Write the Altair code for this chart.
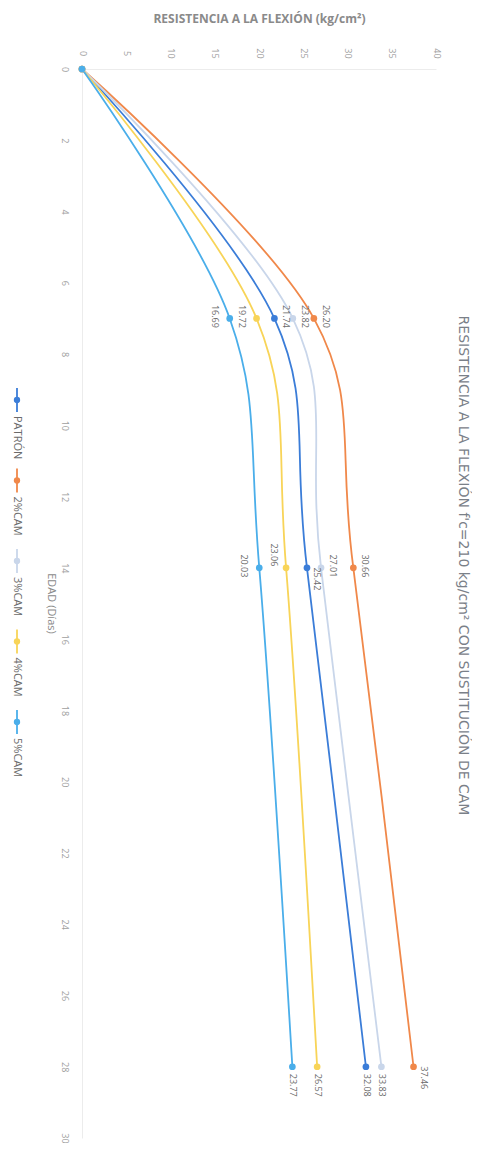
import altair as alt
import pandas as pd

# ---- data ----
series = ["PATRÓN", "2%CAM", "3%CAM", "4%CAM", "5%CAM"]
days = [0, 7, 14, 28]
patron = [0, 21.74, 25.42, 32.08]
cam2 = [0, 26.20, 30.66, 37.46]
cam3 = [0, 23.82, 27.01, 33.83]
cam4 = [0, 19.72, 23.06, 26.57]
cam5 = [0, 16.69, 20.03, 23.77]
x_ticks = [0, 5, 10, 15, 20, 25, 30, 35, 40]
y_ticks = [0, 2, 4, 6, 8, 10, 12, 14, 16, 18, 20, 22, 24, 26, 28, 30]

# ---- styles ----
colors = ["#3b7dd8", "#f0884a", "#c9d6ea", "#f8d458", "#4aaeea"]
FONT = "Open Sans"
label_place = {
    ("PATRÓN", 7): "R", ("2%CAM", 7): "R", ("3%CAM", 7): "R", ("4%CAM", 7): "L", ("5%CAM", 7): "L",
    ("PATRÓN", 14): "RB", ("2%CAM", 14): "R", ("3%CAM", 14): "R", ("4%CAM", 14): "LA", ("5%CAM", 14): "L",
    ("PATRÓN", 28): "B", ("2%CAM", 28): "RB", ("3%CAM", 28): "B", ("4%CAM", 28): "B", ("5%CAM", 28): "B",
}

values_by_series = dict(zip(series, [patron, cam2, cam3, cam4, cam5]))
rows = []
for s in series:
    for d, v in zip(days, values_by_series[s]):
        rows.append({"series": s, "day": d, "value": v,
                     "label": f"{v:.2f}", "place": label_place.get((s, d), "none")})
df = pd.DataFrame(rows)
legend_df = pd.DataFrame({"series": series})

color = alt.Color("series:N", scale=alt.Scale(domain=series, range=colors), legend=None)

x_enc = alt.X(
    "value:Q",
    scale=alt.Scale(domain=[0, 40], nice=False),
    axis=alt.Axis(
        orient="top", values=x_ticks, labelAngle=90, labelAlign="center", labelBaseline="middle",
        labelPadding=16, tickSize=0, ticks=False, grid=False, labelOverlap=False,
        labelColor="#a0a0a0", labelFontSize=9, labelFont=FONT,
        domainColor="#ececec",
        title="RESISTENCIA A LA FLEXIÓN (kg/cm²)", titleFont=FONT, titleFontSize=12,
        titleFontWeight="bold", titleColor="#8a8a8a", titlePadding=22,
    ),
)
y_enc = alt.Y(
    "day:Q",
    scale=alt.Scale(domain=[0, 30], reverse=True, nice=False),
    axis=alt.Axis(
        orient="left", values=y_ticks, labelAngle=90, labelAlign="center", labelBaseline="middle",
        labelPadding=18, tickSize=0, ticks=False, grid=False, labelOverlap=False,
        labelColor="#a0a0a0", labelFontSize=9, labelFont=FONT,
        domainColor="#ececec",
        title="EDAD (Días)", titleAngle=90, titleX=-32, titleY=534, titleAlign="center",
        titleBaseline="middle", titleFont=FONT, titleFontSize=11, titleFontWeight="normal",
        titleColor="#8a8a8a",
    ),
)

base = alt.Chart(df)
lines = base.mark_line(interpolate="cardinal", strokeWidth=1.8).encode(
    x=x_enc, y=y_enc, color=color, order="day:Q"
)
points = base.mark_circle(size=45, opacity=1).encode(
    x="value:Q", y="day:Q", color=color
)

def label_layer(place, **kw):
    return base.transform_filter(alt.datum.place == place).mark_text(
        angle=90, font=FONT, fontSize=9, color="#6a6a6a", **kw
    ).encode(x="value:Q", y="day:Q", text="label:N")

labels = [
    label_layer("R", align="center", baseline="middle", xOffset=12, yOffset=-2),
    label_layer("RB", align="center", baseline="middle", xOffset=10, yOffset=11),
    label_layer("L", align="center", baseline="middle", xOffset=-15, yOffset=-2),
    label_layer("LA", align="center", baseline="middle", xOffset=-12, yOffset=-13),
    label_layer("B", align="left", baseline="middle", xOffset=1, yOffset=7),
]

main = alt.layer(lines, points, *labels)

leg_y = alt.Y("series:N", scale=alt.Scale(type="point", domain=series, range=[331, 653], padding=0), axis=None)
leg_base = alt.Chart(legend_df)
leg_rule = leg_base.mark_rule(strokeWidth=1.8, yOffset=-12, y2Offset=12).encode(
    x=alt.value(-65), y=leg_y, y2=alt.Y2("series:N"), color=color
)
leg_dot = leg_base.mark_circle(size=40, opacity=1).encode(x=alt.value(-65), y=leg_y, color=color)
leg_text = leg_base.mark_text(angle=90, align="left", baseline="middle", yOffset=16,
                              font=FONT, fontSize=11, color="#6a6a6a").encode(
    x=alt.value(-65), y=leg_y, text="series:N"
)
legend = alt.layer(leg_rule, leg_dot, leg_text)

chart = alt.layer(main, legend).resolve_scale(y="independent").properties(
    width=354, height=1069,
    title=alt.TitleParams(
        text="RESISTENCIA A LA FLEXIÓN f'c=210 kg/cm² CON SUSTITUCIÓN DE CAM",
        orient="right", anchor="middle", angle=90, font="DejaVu Sans", fontSize=14,
        fontWeight="normal", color="#7a8088", offset=9, dx=-38, baseline="middle",
    ),
    autosize=alt.AutoSizeParams(type="none"),
    padding={"left": 74, "top": 61, "right": 36, "bottom": 5},
).configure_view(stroke=None)

chart.save("out.html", embed_options={"renderer": "svg", "actions": False})
